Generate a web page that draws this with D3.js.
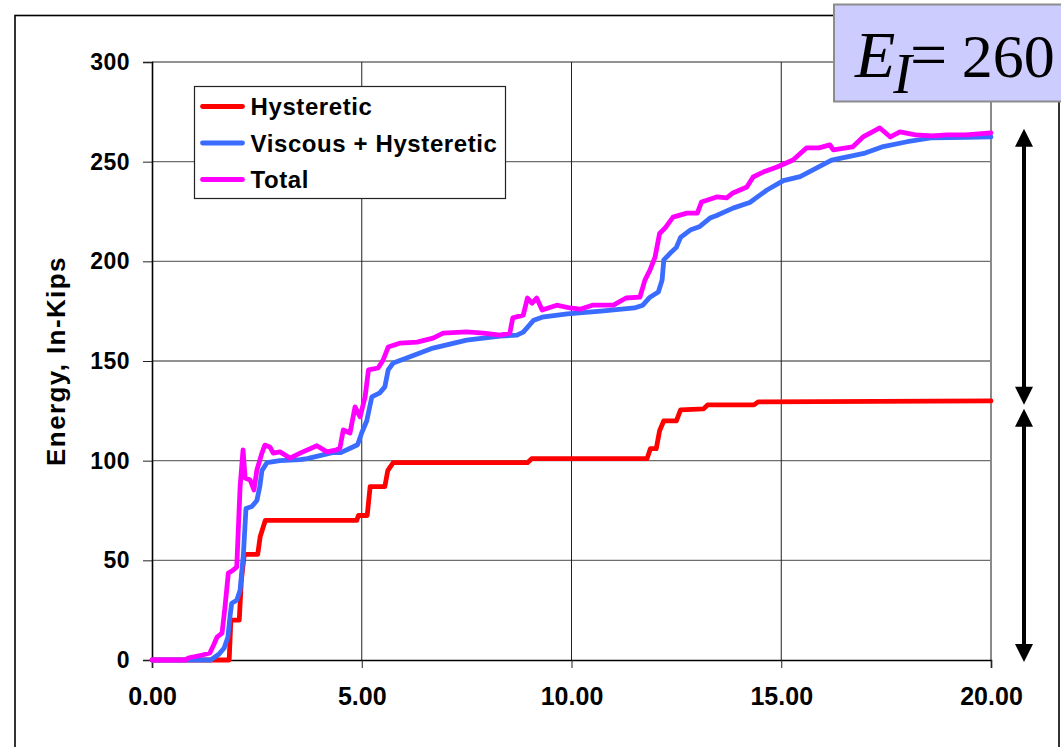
<!DOCTYPE html>
<html>
<head>
<meta charset="utf-8">
<script src="https://cdn.jsdelivr.net/npm/d3@7"></script>
<style>
  html, body { margin: 0; padding: 0; background: #fff; }
  svg { display: block; font-family: "Liberation Sans", Arial, sans-serif; }
</style>
</head>
<body>
<svg id="chart" width="1061" height="747"></svg>
<script>
// Cumulative energy time histories (time in s, energy in in-kips)
const hystT = [0, 1.84, 1.88, 2.08, 2.13, 2.2, 2.52, 2.58, 2.7, 4.88, 4.92, 5.13, 5.2, 5.55, 5.62, 5.75, 8.95, 9.05, 11.8, 11.88, 12.02, 12.1, 12.2, 12.5, 12.6, 13.15, 13.25, 14.35, 14.45, 20];
const hystE = [0, 0, 20, 20, 40, 53, 53, 62, 70, 70, 72.5, 72.5, 87, 87, 95, 99, 99, 101, 101, 106, 106, 115, 120, 120, 125.5, 126, 128, 128, 129.5, 130];

const viscT = [0, 1.4, 1.5, 1.6, 1.72, 1.81, 1.86, 1.9, 2.02, 2.1, 2.18, 2.24, 2.38, 2.5, 2.57, 2.62, 2.74, 3.05, 3.53, 3.7, 4.3, 4.5, 4.8, 4.9, 5.0, 5.12, 5.24, 5.43, 5.55, 5.63, 5.75, 6.07, 6.7, 7.5, 8.3, 8.7, 8.85, 9.1, 9.3, 9.9, 10.7, 11.5, 11.7, 11.87, 12.07, 12.16, 12.2, 12.35, 12.5, 12.6, 12.83, 13.06, 13.3, 13.46, 13.85, 14.25, 14.66, 15.05, 15.45, 16.2, 17.0, 17.4, 18.0, 18.6, 19.4, 20];
const viscE = [0, 0, 1.5, 3, 6, 11.5, 22, 28.5, 30, 35, 53.5, 76, 77, 80, 87, 95, 99, 100, 100.5, 101, 104, 104, 107, 108, 114, 120, 132, 134, 137, 145.5, 149, 151.5, 156.5, 160.5, 162.5, 163, 164.5, 170.5, 172, 173.6, 175, 176.6, 178, 182, 184.6, 190.6, 200.7, 204, 207, 212, 215.7, 217.5, 221.7, 223, 226.7, 229.5, 235.8, 240.5, 242.5, 250.8, 254.3, 257.4, 260, 262, 262.2, 262.4];

const totalT = [0, 0.8, 0.86, 1.2, 1.38, 1.48, 1.55, 1.67, 1.74, 1.82, 1.93, 2.02, 2.1, 2.17, 2.22, 2.34, 2.43, 2.5, 2.62, 2.69, 2.81, 2.89, 3.05, 3.29, 3.53, 3.93, 4.17, 4.4, 4.48, 4.56, 4.72, 4.84, 4.96, 5.08, 5.16, 5.39, 5.51, 5.63, 5.92, 6.32, 6.7, 6.94, 7.5, 7.9, 8.3, 8.53, 8.6, 8.85, 8.95, 9.06, 9.17, 9.3, 9.65, 9.96, 10.2, 10.5, 11.0, 11.3, 11.63, 11.75, 11.87, 11.99, 12.1, 12.23, 12.42, 12.75, 13.0, 13.1, 13.46, 13.7, 13.85, 14.18, 14.33, 14.57, 14.9, 15.28, 15.6, 15.9, 16.16, 16.24, 16.7, 16.95, 17.35, 17.6, 17.83, 18.2, 18.6, 18.95, 19.4, 20];
const totalE = [0, 0, 1, 2.5, 3.5, 8, 11.5, 13.5, 26.6, 43.6, 45, 46.7, 86.8, 105.4, 91.3, 90.3, 85.3, 95.3, 103.8, 107.8, 106.9, 103.8, 104.4, 101.3, 103.8, 107.5, 104.4, 105.4, 106.4, 115.4, 113.9, 127, 122, 132, 145.5, 146.5, 150.5, 157, 159, 159.5, 161.5, 164, 164.6, 164, 163, 164, 171.6, 173, 181.6, 179, 181.6, 175.6, 178, 176.6, 176, 178, 178, 181.6, 182, 190.6, 195.6, 202, 214, 216.7, 222.2, 224.2, 224.2, 229.8, 232.3, 231.8, 234.3, 237.3, 242.3, 244.8, 247.3, 250.8, 256.9, 256.9, 258.4, 255.9, 257.4, 262.4, 266.9, 262.4, 264.9, 263.4, 262.9, 263.4, 263.4, 264.4];

const seriesNames = ["Hysteretic", "Viscous + Hysteretic", "Total"];
const seriesColors = ["#ff0000", "#3a6cff", "#ff00ff"];

const xTicks = [0, 5, 10, 15, 20];
const yTicks = [0, 50, 100, 150, 200, 250, 300];
const yTitle = "Energy, In-Kips";
const inputEnergy = "260";

// Energy components marked by the double arrows on the right
const arrowSpans = [[128, 266.5], [-1, 126]];

const sans = "'Liberation Sans', Arial, sans-serif";
const serif = "'Liberation Serif', 'Times New Roman', serif";

const svg = d3.select("#chart");

const plot = { left: 152, right: 991, top: 62, bottom: 660 };
const x = d3.scaleLinear().domain([0, 20]).range([plot.left, plot.right]);
const y = d3.scaleLinear().domain([0, 300]).range([plot.bottom, plot.top]);

// Outer chart frame
svg.append("rect")
  .attr("x", 15).attr("y", 15.5)
  .attr("width", 1044).attr("height", 800)
  .attr("fill", "#fff").attr("stroke", "#000").attr("stroke-width", 1.6);

// Horizontal gridlines
svg.append("g").selectAll("line").data(yTicks.filter(d => d > 0)).join("line")
  .attr("x1", plot.left).attr("x2", plot.right)
  .attr("y1", d => y(d)).attr("y2", d => y(d))
  .attr("stroke", "#6e6e6e").attr("stroke-width", 1.4);

// Vertical gridlines
svg.append("g").selectAll("line").data(xTicks.filter(d => d > 0 && d < 20)).join("line")
  .attr("x1", d => x(d)).attr("x2", d => x(d))
  .attr("y1", plot.top).attr("y2", plot.bottom)
  .attr("stroke", "#222").attr("stroke-width", 1);

// Right edge of plot area
svg.append("line")
  .attr("x1", x(20)).attr("x2", x(20))
  .attr("y1", plot.top).attr("y2", plot.bottom)
  .attr("stroke", "#8a8a8a").attr("stroke-width", 2);

// Axes
const yAxis = svg.append("g")
  .attr("transform", `translate(${plot.left},0)`)
  .call(d3.axisLeft(y).tickValues(yTicks).tickSize(9).tickPadding(13).tickFormat(d3.format("d")));
yAxis.select(".domain").attr("stroke", "#000").attr("stroke-width", 1.6);
yAxis.selectAll(".tick line").attr("stroke", "#222");
yAxis.selectAll(".tick text")
  .style("font-family", sans).style("font-size", "23px").style("font-weight", "bold")
  .attr("fill", "#000").attr("letter-spacing", 0.5);

const xAxis = svg.append("g")
  .attr("transform", `translate(0,${plot.bottom})`)
  .call(d3.axisBottom(x).tickValues(xTicks).tickSize(8).tickPadding(19).tickFormat(d3.format(".2f")));
xAxis.select(".domain").attr("stroke", "#000").attr("stroke-width", 1.6);
xAxis.selectAll(".tick line").attr("stroke", "#222");
xAxis.selectAll(".tick text")
  .style("font-family", sans).style("font-size", "25px").style("font-weight", "bold")
  .attr("fill", "#000");

// Y axis title
svg.append("text")
  .attr("transform", `translate(65,${(plot.top + plot.bottom) / 2}) rotate(-90)`)
  .attr("text-anchor", "middle")
  .style("font-family", sans).style("font-size", "26px").style("font-weight", "bold")
  .attr("letter-spacing", 1.4)
  .text(yTitle);

// Series lines
const line = d3.line().x(d => x(d[0])).y(d => y(d[1]));
const seriesData = [
  d3.zip(hystT, hystE),
  d3.zip(viscT, viscE),
  d3.zip(totalT, totalE)
];
svg.append("g").selectAll("path").data(seriesData).join("path")
  .attr("d", line)
  .attr("fill", "none")
  .attr("stroke", (d, i) => seriesColors[i])
  .attr("stroke-width", 4.8)
  .attr("stroke-linejoin", "round")
  .attr("stroke-linecap", "round");

// Legend
const legend = svg.append("g").attr("transform", "translate(194.5,86.5)");
legend.append("rect")
  .attr("width", 311).attr("height", 112)
  .attr("fill", "#fff").attr("stroke", "#222").attr("stroke-width", 1.2);
const items = legend.selectAll("g.item").data(seriesNames).join("g")
  .attr("class", "item")
  .attr("transform", (d, i) => `translate(0,${20 + i * 36.5})`);
items.append("line")
  .attr("x1", 8).attr("x2", 48)
  .attr("stroke", (d, i) => seriesColors[i])
  .attr("stroke-width", 4.8).attr("stroke-linecap", "round");
items.append("text")
  .attr("x", 56).attr("y", 8.5)
  .style("font-family", sans).style("font-size", "24px").style("font-weight", "bold")
  .attr("letter-spacing", 0.6)
  .text(d => d);

// Double arrows for the energy components
const arrowX = 1024;
const headL = 18, headW = 9;
const arrows = svg.append("g");
arrowSpans.forEach(([lo, hi]) => {
  const yTop = y(hi), yBot = y(lo);
  arrows.append("line")
    .attr("x1", arrowX).attr("x2", arrowX)
    .attr("y1", yTop + headL - 1).attr("y2", yBot - headL + 1)
    .attr("stroke", "#000").attr("stroke-width", 4);
  arrows.append("path")
    .attr("d", `M${arrowX},${yTop} L${arrowX - headW},${yTop + headL} L${arrowX + headW},${yTop + headL} Z`)
    .attr("fill", "#000");
  arrows.append("path")
    .attr("d", `M${arrowX},${yBot} L${arrowX - headW},${yBot - headL} L${arrowX + headW},${yBot - headL} Z`)
    .attr("fill", "#000");
});

// Input energy label box
const eBox = svg.append("g");
eBox.append("rect")
  .attr("x", 834).attr("y", 4.5)
  .attr("width", 260).attr("height", 97)
  .attr("fill", "#ccccff").attr("stroke", "#8c8c8c").attr("stroke-width", 2);
const eText = eBox.append("text")
  .attr("x", 855).attr("y", 77)
  .style("font-family", serif).style("font-size", "66px")
  .attr("fill", "#000");
eText.append("tspan").style("font-style", "italic").text("E");
eText.append("tspan").style("font-style", "italic").style("font-size", "56px")
  .attr("dx", -2).attr("dy", 16).text("I");
eText.append("tspan").attr("dy", -16).attr("dx", -2).text("= ");
eText.append("tspan").style("font-size", "62px").attr("dx", -2).text(inputEnergy);
</script>
</body>
</html>
